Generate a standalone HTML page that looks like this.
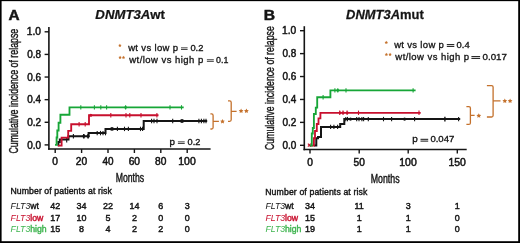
<!DOCTYPE html><html><head><meta charset="utf-8"><style>html,body{margin:0;padding:0;background:#fff;}svg{display:block;will-change:transform;}text{font-family:"Liberation Sans",sans-serif;}</style></head><body>
<svg width="520" height="243" viewBox="0 0 520 243">
<rect x="0" y="0" width="520" height="243" fill="#fff"/>
<line x1="48.9" y1="27" x2="48.9" y2="149.75" stroke="#151515" stroke-width="1.6"/><line x1="48.1" y1="149.0" x2="210.6" y2="149.0" stroke="#151515" stroke-width="1.6"/><line x1="44.6" y1="144.90" x2="48.9" y2="144.90" stroke="#151515" stroke-width="1.4"/><g transform="translate(27.152,148.5) scale(0.9423,1)"><text x="0" y="0" font-size="10.571"><tspan fill="#151515" stroke="#151515" stroke-width="0.5">0.0</tspan></text></g><line x1="44.6" y1="122.28" x2="48.9" y2="122.28" stroke="#151515" stroke-width="1.4"/><g transform="translate(27.147,125.88) scale(0.9532,1)"><text x="0" y="0" font-size="10.571"><tspan fill="#151515" stroke="#151515" stroke-width="0.5">0.2</tspan></text></g><line x1="44.6" y1="99.66" x2="48.9" y2="99.66" stroke="#151515" stroke-width="1.4"/><g transform="translate(27.153,103.26) scale(0.9388,1)"><text x="0" y="0" font-size="10.571"><tspan fill="#151515" stroke="#151515" stroke-width="0.5">0.4</tspan></text></g><line x1="44.6" y1="77.04" x2="48.9" y2="77.04" stroke="#151515" stroke-width="1.4"/><g transform="translate(27.150,80.64) scale(0.9459,1)"><text x="0" y="0" font-size="10.571"><tspan fill="#151515" stroke="#151515" stroke-width="0.5">0.6</tspan></text></g><line x1="44.6" y1="54.42" x2="48.9" y2="54.42" stroke="#151515" stroke-width="1.4"/><g transform="translate(27.150,58.02) scale(0.9459,1)"><text x="0" y="0" font-size="10.571"><tspan fill="#151515" stroke="#151515" stroke-width="0.5">0.8</tspan></text></g><line x1="44.6" y1="31.80" x2="48.9" y2="31.80" stroke="#151515" stroke-width="1.4"/><g transform="translate(26.782,35.4) scale(0.9681,1)"><text x="0" y="0" font-size="10.571"><tspan fill="#151515" stroke="#151515" stroke-width="0.5">1.0</tspan></text></g><line x1="55.2" y1="149.0" x2="55.2" y2="153.0" stroke="#151515" stroke-width="1.4"/><g transform="translate(52.342,165.0) scale(0.9925,1)"><text x="0" y="0" font-size="10.286"><tspan fill="#151515" stroke="#151515" stroke-width="0.5">0</tspan></text></g><line x1="81.6" y1="149.0" x2="81.6" y2="153.0" stroke="#151515" stroke-width="1.4"/><g transform="translate(75.838,165.0) scale(0.9959,1)"><text x="0" y="0" font-size="10.286"><tspan fill="#151515" stroke="#151515" stroke-width="0.5">20</tspan></text></g><line x1="108.0" y1="149.0" x2="108.0" y2="153.0" stroke="#151515" stroke-width="1.4"/><g transform="translate(102.551,165.0) scale(0.9676,1)"><text x="0" y="0" font-size="10.286"><tspan fill="#151515" stroke="#151515" stroke-width="0.5">40</tspan></text></g><line x1="134.4" y1="149.0" x2="134.4" y2="153.0" stroke="#151515" stroke-width="1.4"/><g transform="translate(128.638,165.0) scale(0.9959,1)"><text x="0" y="0" font-size="10.286"><tspan fill="#151515" stroke="#151515" stroke-width="0.5">60</tspan></text></g><line x1="160.8" y1="149.0" x2="160.8" y2="153.0" stroke="#151515" stroke-width="1.4"/><g transform="translate(155.091,165.0) scale(0.9911,1)"><text x="0" y="0" font-size="10.286"><tspan fill="#151515" stroke="#151515" stroke-width="0.5">80</tspan></text></g><line x1="187.2" y1="149.0" x2="187.2" y2="153.0" stroke="#151515" stroke-width="1.4"/><g transform="translate(178.291,165.0) scale(1.0160,1)"><text x="0" y="0" font-size="10.286"><tspan fill="#151515" stroke="#151515" stroke-width="0.5">100</tspan></text></g>
<line x1="304.3" y1="26.2" x2="304.3" y2="150.25" stroke="#151515" stroke-width="1.6"/><line x1="303.5" y1="149.5" x2="466.7" y2="149.5" stroke="#151515" stroke-width="1.6"/><line x1="300.0" y1="145.30" x2="304.3" y2="145.30" stroke="#151515" stroke-width="1.4"/><g transform="translate(282.452,148.9) scale(0.9423,1)"><text x="0" y="0" font-size="10.571"><tspan fill="#151515" stroke="#151515" stroke-width="0.5">0.0</tspan></text></g><line x1="300.0" y1="122.38" x2="304.3" y2="122.38" stroke="#151515" stroke-width="1.4"/><g transform="translate(282.447,125.98) scale(0.9532,1)"><text x="0" y="0" font-size="10.571"><tspan fill="#151515" stroke="#151515" stroke-width="0.5">0.2</tspan></text></g><line x1="300.0" y1="99.46" x2="304.3" y2="99.46" stroke="#151515" stroke-width="1.4"/><g transform="translate(282.453,103.06) scale(0.9388,1)"><text x="0" y="0" font-size="10.571"><tspan fill="#151515" stroke="#151515" stroke-width="0.5">0.4</tspan></text></g><line x1="300.0" y1="76.54" x2="304.3" y2="76.54" stroke="#151515" stroke-width="1.4"/><g transform="translate(282.450,80.14) scale(0.9459,1)"><text x="0" y="0" font-size="10.571"><tspan fill="#151515" stroke="#151515" stroke-width="0.5">0.6</tspan></text></g><line x1="300.0" y1="53.62" x2="304.3" y2="53.62" stroke="#151515" stroke-width="1.4"/><g transform="translate(282.450,57.22) scale(0.9459,1)"><text x="0" y="0" font-size="10.571"><tspan fill="#151515" stroke="#151515" stroke-width="0.5">0.8</tspan></text></g><line x1="300.0" y1="30.70" x2="304.3" y2="30.70" stroke="#151515" stroke-width="1.4"/><g transform="translate(282.082,34.3) scale(0.9681,1)"><text x="0" y="0" font-size="10.571"><tspan fill="#151515" stroke="#151515" stroke-width="0.5">1.0</tspan></text></g><line x1="310.0" y1="149.5" x2="310.0" y2="153.5" stroke="#151515" stroke-width="1.4"/><g transform="translate(307.142,165.6) scale(0.9925,1)"><text x="0" y="0" font-size="10.286"><tspan fill="#151515" stroke="#151515" stroke-width="0.5">0</tspan></text></g><line x1="359.2" y1="149.5" x2="359.2" y2="153.5" stroke="#151515" stroke-width="1.4"/><g transform="translate(353.544,165.6) scale(0.9863,1)"><text x="0" y="0" font-size="10.286"><tspan fill="#151515" stroke="#151515" stroke-width="0.5">50</tspan></text></g><line x1="408.2" y1="149.5" x2="408.2" y2="153.5" stroke="#151515" stroke-width="1.4"/><g transform="translate(399.291,165.6) scale(1.0160,1)"><text x="0" y="0" font-size="10.286"><tspan fill="#151515" stroke="#151515" stroke-width="0.5">100</tspan></text></g><line x1="457.3" y1="149.5" x2="457.3" y2="153.5" stroke="#151515" stroke-width="1.4"/><g transform="translate(448.391,165.6) scale(1.0160,1)"><text x="0" y="0" font-size="10.286"><tspan fill="#151515" stroke="#151515" stroke-width="0.5">150</tspan></text></g>
<g transform="translate(8.591,20.0) scale(1.1166,1)"><text x="0" y="0" font-size="13.768"><tspan fill="#151515" stroke="#151515" stroke-width="0.45" font-weight="bold">A</tspan></text></g>
<g transform="translate(263.707,20.0) scale(1.1371,1)"><text x="0" y="0" font-size="13.768"><tspan fill="#151515" stroke="#151515" stroke-width="0.45" font-weight="bold">B</tspan></text></g>
<g transform="translate(95.361,18.75) scale(1.0156,1)"><text x="0" y="0" font-size="13.000"><tspan fill="#151515" stroke="#151515" stroke-width="0.25" font-weight="bold" font-style="italic">DNMT3A</tspan><tspan fill="#151515" stroke="#151515" stroke-width="0.25" font-weight="bold">wt</tspan></text></g>
<g transform="translate(346.116,18.75) scale(0.9962,1)"><text x="0" y="0" font-size="13.000"><tspan fill="#151515" stroke="#151515" stroke-width="0.25" font-weight="bold" font-style="italic">DNMT3A</tspan><tspan fill="#151515" stroke="#151515" stroke-width="0.25" font-weight="bold">mut</tspan></text></g>
<g transform="translate(18.3,153.3) rotate(-90)"><g transform="translate(-0.241,0) scale(0.7100,1)"><text x="0" y="0" font-size="12.414"><tspan fill="#151515" stroke="#151515" stroke-width="0.4">Cumulative incidence of relapse</tspan></text></g></g>
<g transform="translate(273.6,149.8) rotate(-90)"><g transform="translate(-0.237,0) scale(0.7049,1)"><text x="0" y="0" font-size="12.414"><tspan fill="#151515" stroke="#151515" stroke-width="0.4">Cumulative incidence of relapse</tspan></text></g></g>
<g transform="translate(115.629,182.4) scale(0.6935,1)"><text x="0" y="0" font-size="12.552"><tspan fill="#151515" stroke="#151515" stroke-width="0.45">Months</tspan></text></g>
<g transform="translate(370.772,183.0) scale(0.7076,1)"><text x="0" y="0" font-size="12.414"><tspan fill="#151515" stroke="#151515" stroke-width="0.45">Months</tspan></text></g>
<g transform="translate(128.160,50.8) scale(1.0000,1)"><text x="0" y="0" font-size="9.517" letter-spacing="0.342"><tspan fill="#151515" stroke="#151515" stroke-width="0.32">wt vs low p</tspan></text></g><rect x="181.0" y="47.37" width="6.60" height="0.95" fill="#3a3a3a"/><rect x="181.0" y="48.97" width="6.60" height="0.95" fill="#3a3a3a"/><g transform="translate(190.385,50.8) scale(1.0752,1)"><text x="0" y="0" font-size="8.714"><tspan fill="#151515" stroke="#151515" stroke-width="0.32">0.2</tspan></text></g>
<g transform="translate(129.260,62.7) scale(1.0000,1)"><text x="0" y="0" font-size="9.517" letter-spacing="0.458"><tspan fill="#151515" stroke="#151515" stroke-width="0.32">wt/low vs high p</tspan></text></g><rect x="206.9" y="59.27" width="6.90" height="0.95" fill="#3a3a3a"/><rect x="206.9" y="60.88" width="6.90" height="0.95" fill="#3a3a3a"/><g transform="translate(216.005,62.7) scale(1.0183,1)"><text x="0" y="0" font-size="8.714"><tspan fill="#151515" stroke="#151515" stroke-width="0.32">0.1</tspan></text></g>
<g transform="translate(394.160,47.7) scale(1.0000,1)"><text x="0" y="0" font-size="9.517" letter-spacing="0.322"><tspan fill="#151515" stroke="#151515" stroke-width="0.32">wt vs low p</tspan></text></g><rect x="446.8" y="44.10" width="7.50" height="1.0" fill="#151515"/><rect x="446.8" y="45.90" width="7.50" height="1.0" fill="#151515"/><g transform="translate(456.585,47.7) scale(1.0763,1)"><text x="0" y="0" font-size="8.714"><tspan fill="#151515" stroke="#151515" stroke-width="0.32">0.4</tspan></text></g>
<g transform="translate(395.360,59.7) scale(1.0000,1)"><text x="0" y="0" font-size="9.517" letter-spacing="0.438"><tspan fill="#151515" stroke="#151515" stroke-width="0.32">wt/low vs high p</tspan></text></g><rect x="471.4" y="56.10" width="8.70" height="1.0" fill="#151515"/><rect x="471.4" y="57.90" width="8.70" height="1.0" fill="#151515"/><g transform="translate(482.570,59.7) scale(1.1180,1)"><text x="0" y="0" font-size="8.714"><tspan fill="#151515" stroke="#151515" stroke-width="0.32">0.017</tspan></text></g>
<polygon points="119.90,43.70 120.43,44.77 121.61,44.94 120.76,45.78 120.96,46.96 119.90,46.40 118.84,46.96 119.04,45.78 118.19,44.94 119.37,44.77" fill="#c4712c"/><polygon points="120.10,55.70 120.63,56.77 121.81,56.94 120.96,57.78 121.16,58.96 120.10,58.40 119.04,58.96 119.24,57.78 118.39,56.94 119.57,56.77" fill="#c4712c"/><polygon points="123.50,55.70 124.03,56.77 125.21,56.94 124.36,57.78 124.56,58.96 123.50,58.40 122.44,58.96 122.64,57.78 121.79,56.94 122.97,56.77" fill="#c4712c"/>
<polygon points="386.30,40.80 386.83,41.87 388.01,42.04 387.16,42.88 387.36,44.06 386.30,43.50 385.24,44.06 385.44,42.88 384.59,42.04 385.77,41.87" fill="#c4712c"/><polygon points="386.40,52.70 386.93,53.77 388.11,53.94 387.26,54.78 387.46,55.96 386.40,55.40 385.34,55.96 385.54,54.78 384.69,53.94 385.87,53.77" fill="#c4712c"/><polygon points="390.10,52.70 390.63,53.77 391.81,53.94 390.96,54.78 391.16,55.96 390.10,55.40 389.04,55.96 389.24,54.78 388.39,53.94 389.57,53.77" fill="#c4712c"/>
<g transform="translate(169.427,144.8) scale(1.1188,1)"><text x="0" y="0" font-size="8.700"><tspan fill="#151515" stroke="#151515" stroke-width="0.32">p</tspan></text></g><rect x="177.9" y="141.38" width="6.80" height="0.95" fill="#3a3a3a"/><rect x="177.9" y="142.98" width="6.80" height="0.95" fill="#3a3a3a"/><g transform="translate(187.591,144.8) scale(1.0575,1)"><text x="0" y="0" font-size="8.714"><tspan fill="#151515" stroke="#151515" stroke-width="0.32">0.2</tspan></text></g>
<g transform="translate(412.313,142.4) scale(1.1443,1)"><text x="0" y="0" font-size="8.700"><tspan fill="#151515" stroke="#151515" stroke-width="0.32">p</tspan></text></g><rect x="420.5" y="138.80" width="7.70" height="1.0" fill="#151515"/><rect x="420.5" y="140.60" width="7.70" height="1.0" fill="#151515"/><g transform="translate(430.377,142.4) scale(1.0990,1)"><text x="0" y="0" font-size="8.714"><tspan fill="#151515" stroke="#151515" stroke-width="0.32">0.047</tspan></text></g>
<path d="M57.5,145.2 H58.4 V142 H59.8 V139.6 H68.5 V136.3 H88.6 V133.1 H105.5 V128.9 H143.7 V121 H207.2" fill="none" stroke="#151515" stroke-width="2.0" stroke-linejoin="miter"/>
<line x1="66.7" y1="138.0" x2="66.7" y2="142.39999999999998" stroke="#151515" stroke-width="1.1"/><line x1="73.4" y1="134.10000000000002" x2="73.4" y2="138.5" stroke="#151515" stroke-width="1.1"/><circle cx="83.8" cy="136.3" r="1.45" fill="#151515"/><circle cx="88.1" cy="136.3" r="1.45" fill="#151515"/><line x1="83.8" y1="134.10000000000002" x2="83.8" y2="138.5" stroke="#151515" stroke-width="1.6"/><line x1="88.1" y1="134.10000000000002" x2="88.1" y2="138.5" stroke="#151515" stroke-width="1.6"/><line x1="97.2" y1="130.9" x2="97.2" y2="135.29999999999998" stroke="#151515" stroke-width="1.1"/><line x1="100.5" y1="130.9" x2="100.5" y2="135.29999999999998" stroke="#151515" stroke-width="1.1"/><line x1="103" y1="130.9" x2="103" y2="135.29999999999998" stroke="#151515" stroke-width="1.1"/><line x1="105.5" y1="130.9" x2="105.5" y2="135.29999999999998" stroke="#151515" stroke-width="1.1"/><circle cx="112" cy="128.9" r="1.9" fill="#151515"/><line x1="117.4" y1="126.7" x2="117.4" y2="131.1" stroke="#151515" stroke-width="1.1"/><line x1="124.5" y1="126.7" x2="124.5" y2="131.1" stroke="#151515" stroke-width="1.1"/><line x1="128.4" y1="126.7" x2="128.4" y2="131.1" stroke="#151515" stroke-width="1.1"/><line x1="140.5" y1="126.7" x2="140.5" y2="131.1" stroke="#151515" stroke-width="1.1"/><line x1="142.6" y1="126.7" x2="142.6" y2="131.1" stroke="#151515" stroke-width="1.1"/><line x1="151.6" y1="118.8" x2="151.6" y2="123.2" stroke="#151515" stroke-width="1.1"/><line x1="154" y1="118.8" x2="154" y2="123.2" stroke="#151515" stroke-width="1.1"/><line x1="157" y1="118.8" x2="157" y2="123.2" stroke="#151515" stroke-width="1.1"/><line x1="172.7" y1="118.8" x2="172.7" y2="123.2" stroke="#151515" stroke-width="1.1"/><line x1="198.9" y1="118.8" x2="198.9" y2="123.2" stroke="#151515" stroke-width="1.1"/><line x1="201.4" y1="118.8" x2="201.4" y2="123.2" stroke="#151515" stroke-width="1.1"/><line x1="203.9" y1="118.8" x2="203.9" y2="123.2" stroke="#151515" stroke-width="1.1"/><line x1="206" y1="118.8" x2="206" y2="123.2" stroke="#151515" stroke-width="1.1"/><circle cx="182" cy="121" r="2.0" fill="#151515"/>
<path d="M58,145.6 H61.6 V137.6 H68.2 V130.8 H71.2 V124.2 H89.0 V115.2 H158.5" fill="none" stroke="#c8102e" stroke-width="1.85" stroke-linejoin="miter"/>
<line x1="79.1" y1="122.0" x2="79.1" y2="126.4" stroke="#c8102e" stroke-width="1.1"/><line x1="85.2" y1="122.0" x2="85.2" y2="126.4" stroke="#c8102e" stroke-width="1.1"/><line x1="110.8" y1="113.0" x2="110.8" y2="117.4" stroke="#c8102e" stroke-width="1.1"/><line x1="126" y1="113.0" x2="126" y2="117.4" stroke="#c8102e" stroke-width="1.1"/><line x1="129.8" y1="113.0" x2="129.8" y2="117.4" stroke="#c8102e" stroke-width="1.1"/><line x1="141" y1="113.0" x2="141" y2="117.4" stroke="#c8102e" stroke-width="1.1"/><line x1="156.9" y1="113.0" x2="156.9" y2="117.4" stroke="#c8102e" stroke-width="1.1"/><circle cx="90.8" cy="115.2" r="1.5" fill="#c8102e"/>
<path d="M55,144.9 H56.6 V137.5 H57.3 V130.5 H58.6 V122.7 H60.4 V114.7 H69.5 V107.4 H183.7" fill="none" stroke="#17a637" stroke-width="1.85" stroke-linejoin="miter"/>
<line x1="80.8" y1="105.2" x2="80.8" y2="109.60000000000001" stroke="#17a637" stroke-width="1.1"/><line x1="94.4" y1="105.2" x2="94.4" y2="109.60000000000001" stroke="#17a637" stroke-width="1.1"/><line x1="100.8" y1="105.2" x2="100.8" y2="109.60000000000001" stroke="#17a637" stroke-width="1.1"/><line x1="106.6" y1="105.2" x2="106.6" y2="109.60000000000001" stroke="#17a637" stroke-width="1.1"/><line x1="125.6" y1="105.2" x2="125.6" y2="109.60000000000001" stroke="#17a637" stroke-width="1.1"/><line x1="170" y1="105.2" x2="170" y2="109.60000000000001" stroke="#17a637" stroke-width="1.1"/><line x1="181.5" y1="105.2" x2="181.5" y2="109.60000000000001" stroke="#17a637" stroke-width="1.1"/><circle cx="125.6" cy="107.4" r="1.3" fill="#17a637"/>
<path d="M313.9,145.4 H316.3 V138.2 H318 V137 H321 V126.9 H340.2 V123.9 H344.3 V119.1 H460.2" fill="none" stroke="#151515" stroke-width="2.0" stroke-linejoin="miter"/>
<line x1="330.6" y1="124.7" x2="330.6" y2="129.1" stroke="#151515" stroke-width="1.1"/><line x1="333.9" y1="124.7" x2="333.9" y2="129.1" stroke="#151515" stroke-width="1.1"/><line x1="337.6" y1="124.7" x2="337.6" y2="129.1" stroke="#151515" stroke-width="1.1"/><line x1="345.8" y1="116.89999999999999" x2="345.8" y2="121.3" stroke="#151515" stroke-width="1.1"/><line x1="347.5" y1="116.89999999999999" x2="347.5" y2="121.3" stroke="#151515" stroke-width="1.1"/><line x1="356.7" y1="116.89999999999999" x2="356.7" y2="121.3" stroke="#151515" stroke-width="1.1"/><line x1="359" y1="116.89999999999999" x2="359" y2="121.3" stroke="#151515" stroke-width="1.1"/><line x1="361.9" y1="116.89999999999999" x2="361.9" y2="121.3" stroke="#151515" stroke-width="1.1"/><line x1="363.6" y1="116.89999999999999" x2="363.6" y2="121.3" stroke="#151515" stroke-width="1.1"/><line x1="368.3" y1="116.89999999999999" x2="368.3" y2="121.3" stroke="#151515" stroke-width="1.1"/><line x1="383.5" y1="116.89999999999999" x2="383.5" y2="121.3" stroke="#151515" stroke-width="1.1"/><line x1="391.6" y1="116.89999999999999" x2="391.6" y2="121.3" stroke="#151515" stroke-width="1.1"/><line x1="414.6" y1="116.89999999999999" x2="414.6" y2="121.3" stroke="#151515" stroke-width="1.1"/><line x1="458.6" y1="116.89999999999999" x2="458.6" y2="121.3" stroke="#151515" stroke-width="1.1"/><circle cx="350.5" cy="119.1" r="1.6" fill="#151515"/><circle cx="404.6" cy="119.1" r="1.6" fill="#151515"/><line x1="444.9" y1="116.69999999999999" x2="444.9" y2="121.5" stroke="#151515" stroke-width="1.4"/>
<path d="M309.6,145.6 H313.9 V138.2 H315 V131 H316.8 V124 H318.5 V118.3 H320.4 V112.8 H420.7" fill="none" stroke="#c8102e" stroke-width="1.85" stroke-linejoin="miter"/>
<line x1="339.7" y1="110.6" x2="339.7" y2="115.0" stroke="#c8102e" stroke-width="1.1"/><line x1="343" y1="110.6" x2="343" y2="115.0" stroke="#c8102e" stroke-width="1.1"/><line x1="347.1" y1="110.6" x2="347.1" y2="115.0" stroke="#c8102e" stroke-width="1.1"/><line x1="358.5" y1="110.6" x2="358.5" y2="115.0" stroke="#c8102e" stroke-width="1.1"/><line x1="419" y1="110.6" x2="419" y2="115.0" stroke="#c8102e" stroke-width="1.1"/><circle cx="340.2" cy="112.8" r="1.4" fill="#c8102e"/><circle cx="343.2" cy="112.8" r="1.4" fill="#c8102e"/><circle cx="347.2" cy="112.8" r="1.4" fill="#c8102e"/><path d="M307.9,143.7 L310.7,146.7 M307.9,146.7 L310.7,143.7" stroke="#c8102e" stroke-width="1.1"/>
<path d="M309.8,145.6 H311.8 V133.5 H312.8 V128 H313.9 V114 H315.8 V107.6 H317.2 V97.2 H330.4 V90.4 H415.6" fill="none" stroke="#17a637" stroke-width="1.85" stroke-linejoin="miter"/>
<line x1="323.1" y1="95.0" x2="323.1" y2="99.4" stroke="#17a637" stroke-width="1.1"/><line x1="334.9" y1="88.2" x2="334.9" y2="92.60000000000001" stroke="#17a637" stroke-width="1.1"/><line x1="337.8" y1="88.2" x2="337.8" y2="92.60000000000001" stroke="#17a637" stroke-width="1.1"/><line x1="346" y1="88.2" x2="346" y2="92.60000000000001" stroke="#17a637" stroke-width="1.1"/><line x1="413.1" y1="88.2" x2="413.1" y2="92.60000000000001" stroke="#17a637" stroke-width="1.1"/><circle cx="337.8" cy="90.4" r="1.3" fill="#17a637"/>
<path d="M210.4,113.9 H211.6 Q213.1,113.9 213.1,115.4 V127.5 Q213.1,129.0 211.6,129.0 H210.4 M213.1,121.3 H218.9" fill="none" stroke="#c4712c" stroke-width="1.3"/>
<polygon points="222.50,118.90 223.23,120.39 224.88,120.63 223.69,121.79 223.97,123.42 222.50,122.65 221.03,123.42 221.31,121.79 220.12,120.63 221.77,120.39" fill="#c4712c"/>
<path d="M228.0,100.9 H229.7 Q231.2,100.9 231.2,102.4 V119.8 Q231.2,121.3 229.7,121.3 H228.0 M231.2,111.3 H236.6" fill="none" stroke="#c4712c" stroke-width="1.3"/>
<polygon points="241.10,108.60 241.83,110.09 243.48,110.33 242.29,111.49 242.57,113.12 241.10,112.35 239.63,113.12 239.91,111.49 238.72,110.33 240.37,110.09" fill="#c4712c"/><polygon points="246.40,108.60 247.13,110.09 248.78,110.33 247.59,111.49 247.87,113.12 246.40,112.35 244.93,113.12 245.21,111.49 244.02,110.33 245.67,110.09" fill="#c4712c"/>
<path d="M466.4,106.6 H468.9 Q470.4,106.6 470.4,108.1 V122.9 Q470.4,124.4 468.9,124.4 H466.4 M470.4,115.4 H474.6" fill="none" stroke="#c4712c" stroke-width="1.3"/>
<polygon points="478.80,113.30 479.53,114.79 481.18,115.03 479.99,116.19 480.27,117.82 478.80,117.05 477.33,117.82 477.61,116.19 476.42,115.03 478.07,114.79" fill="#c4712c"/>
<path d="M486.9,85.6 H491.6 Q493.1,85.6 493.1,87.1 V115.5 Q493.1,117.0 491.6,117.0 H486.9 M493.1,100.9 H500.5" fill="none" stroke="#c4712c" stroke-width="1.3"/>
<polygon points="504.80,98.60 505.53,100.09 507.18,100.33 505.99,101.49 506.27,103.12 504.80,102.35 503.33,103.12 503.61,101.49 502.42,100.33 504.07,100.09" fill="#c4712c"/><polygon points="510.10,98.60 510.83,100.09 512.48,100.33 511.29,101.49 511.57,103.12 510.10,102.35 508.63,103.12 508.91,101.49 507.72,100.33 509.37,100.09" fill="#c4712c"/>
<g transform="translate(10.404,194.2) scale(1.0000,1)"><text x="0" y="0" font-size="8.700" letter-spacing="0.094"><tspan fill="#151515" stroke="#151515" stroke-width="0.4">Number of patients at risk</tspan></text></g><text x="10.6" y="208.6" font-size="8.7" fill="#151515"><tspan font-style="italic">FLT3</tspan><tspan stroke="#151515" stroke-width="0.4">wt</tspan></text><text x="55.2" y="208.6" font-size="8.96" fill="#151515" stroke="#151515" stroke-width="0.45" text-anchor="middle">42</text><text x="81.6" y="208.6" font-size="8.96" fill="#151515" stroke="#151515" stroke-width="0.45" text-anchor="middle">34</text><text x="108.0" y="208.6" font-size="8.96" fill="#151515" stroke="#151515" stroke-width="0.45" text-anchor="middle">22</text><text x="134.4" y="208.6" font-size="8.96" fill="#151515" stroke="#151515" stroke-width="0.45" text-anchor="middle">14</text><text x="160.8" y="208.6" font-size="8.96" fill="#151515" stroke="#151515" stroke-width="0.45" text-anchor="middle">6</text><text x="187.2" y="208.6" font-size="8.96" fill="#151515" stroke="#151515" stroke-width="0.45" text-anchor="middle">3</text><text x="10.6" y="220.6" font-size="8.7" fill="#c8102e"><tspan font-style="italic">FLT3</tspan><tspan stroke="#c8102e" stroke-width="0.4">low</tspan></text><text x="55.2" y="220.6" font-size="8.96" fill="#151515" stroke="#151515" stroke-width="0.45" text-anchor="middle">17</text><text x="81.6" y="220.6" font-size="8.96" fill="#151515" stroke="#151515" stroke-width="0.45" text-anchor="middle">10</text><text x="108.0" y="220.6" font-size="8.96" fill="#151515" stroke="#151515" stroke-width="0.45" text-anchor="middle">5</text><text x="134.4" y="220.6" font-size="8.96" fill="#151515" stroke="#151515" stroke-width="0.45" text-anchor="middle">2</text><text x="160.8" y="220.6" font-size="8.96" fill="#151515" stroke="#151515" stroke-width="0.45" text-anchor="middle">0</text><text x="187.2" y="220.6" font-size="8.96" fill="#151515" stroke="#151515" stroke-width="0.45" text-anchor="middle">0</text><text x="10.6" y="231.9" font-size="8.7" fill="#3db44e"><tspan font-style="italic">FLT3</tspan><tspan stroke="#3db44e" stroke-width="0.4">high</tspan></text><text x="55.2" y="231.9" font-size="8.96" fill="#151515" stroke="#151515" stroke-width="0.45" text-anchor="middle">15</text><text x="81.6" y="231.9" font-size="8.96" fill="#151515" stroke="#151515" stroke-width="0.45" text-anchor="middle">8</text><text x="108.0" y="231.9" font-size="8.96" fill="#151515" stroke="#151515" stroke-width="0.45" text-anchor="middle">4</text><text x="134.4" y="231.9" font-size="8.96" fill="#151515" stroke="#151515" stroke-width="0.45" text-anchor="middle">2</text><text x="160.8" y="231.9" font-size="8.96" fill="#151515" stroke="#151515" stroke-width="0.45" text-anchor="middle">2</text><text x="187.2" y="231.9" font-size="8.96" fill="#151515" stroke="#151515" stroke-width="0.45" text-anchor="middle">0</text>
<g transform="translate(265.204,195.0) scale(1.0000,1)"><text x="0" y="0" font-size="8.700" letter-spacing="0.126"><tspan fill="#151515" stroke="#151515" stroke-width="0.4">Number of patients at risk</tspan></text></g><text x="265.4" y="209.0" font-size="8.7" fill="#151515"><tspan font-style="italic">FLT3</tspan><tspan stroke="#151515" stroke-width="0.4">wt</tspan></text><text x="310.0" y="209.0" font-size="8.96" fill="#151515" stroke="#151515" stroke-width="0.45" text-anchor="middle">34</text><text x="359.2" y="209.0" font-size="8.96" fill="#151515" stroke="#151515" stroke-width="0.45" text-anchor="middle">11</text><text x="408.2" y="209.0" font-size="8.96" fill="#151515" stroke="#151515" stroke-width="0.45" text-anchor="middle">3</text><text x="457.3" y="209.0" font-size="8.96" fill="#151515" stroke="#151515" stroke-width="0.45" text-anchor="middle">1</text><text x="265.4" y="221.0" font-size="8.7" fill="#c8102e"><tspan font-style="italic">FLT3</tspan><tspan stroke="#c8102e" stroke-width="0.4">low</tspan></text><text x="310.0" y="221.0" font-size="8.96" fill="#151515" stroke="#151515" stroke-width="0.45" text-anchor="middle">15</text><text x="359.2" y="221.0" font-size="8.96" fill="#151515" stroke="#151515" stroke-width="0.45" text-anchor="middle">1</text><text x="408.2" y="221.0" font-size="8.96" fill="#151515" stroke="#151515" stroke-width="0.45" text-anchor="middle">1</text><text x="457.3" y="221.0" font-size="8.96" fill="#151515" stroke="#151515" stroke-width="0.45" text-anchor="middle">0</text><text x="265.4" y="232.4" font-size="8.7" fill="#3db44e"><tspan font-style="italic">FLT3</tspan><tspan stroke="#3db44e" stroke-width="0.4">high</tspan></text><text x="310.0" y="232.4" font-size="8.96" fill="#151515" stroke="#151515" stroke-width="0.45" text-anchor="middle">19</text><text x="359.2" y="232.4" font-size="8.96" fill="#151515" stroke="#151515" stroke-width="0.45" text-anchor="middle">1</text><text x="408.2" y="232.4" font-size="8.96" fill="#151515" stroke="#151515" stroke-width="0.45" text-anchor="middle">1</text><text x="457.3" y="232.4" font-size="8.96" fill="#151515" stroke="#151515" stroke-width="0.45" text-anchor="middle">0</text>
<rect x="0" y="0" width="1.6" height="243" fill="#000"/>
<rect x="0" y="0" width="520" height="1.15" fill="#000"/>
<rect x="518.2" y="0" width="1.8" height="243" fill="#000"/>
<rect x="0" y="241.2" width="520" height="1.8" fill="#000"/>
</svg></body></html>
